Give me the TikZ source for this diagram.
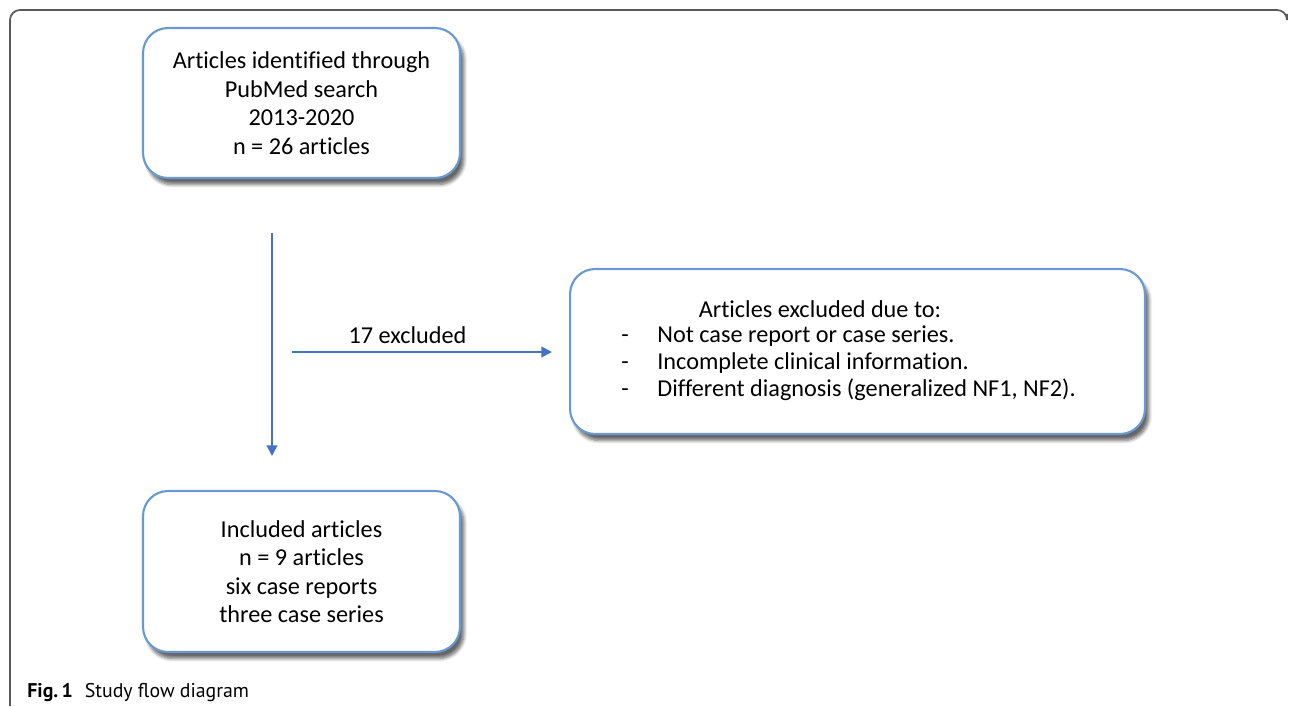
\documentclass[tikz,border=0pt]{standalone}
\usepackage{fontspec}
\setmainfont{Carlito}[Ligatures=NoCommon]
\newfontfamily\capfont{PT Sans}
\usetikzlibrary{arrows.meta, shadows.blur}
\definecolor{boxblue}{RGB}{104,153,211}
\definecolor{arrowblue}{RGB}{68,114,196}
\definecolor{framegray}{RGB}{90,90,90}

\begin{document}
\begin{tikzpicture}[x=0.02cm, y=-0.02cm,
  box/.style={draw=boxblue, line width=1.2pt, rounded corners=0.5cm, fill=white,
    align=center, font=\fontsize{13.8}{16.2}\selectfont,
    blur shadow={shadow xshift=0.08cm, shadow yshift=-0.13cm, shadow blur steps=6, shadow opacity=60}},
  flow/.style={draw=arrowblue, line width=1.1pt, -{Triangle[length=6pt, width=6pt]}},
  txt/.style={font=\fontsize{13.8}{15.4}\selectfont, inner sep=0pt, anchor=base}]
\useasboundingbox (0,0) rectangle (1290,706);

\draw[framegray, line width=1pt, rounded corners=0.2cm] (10,706) -- (10,10) -- (1287,10) -- (1287,14);

\node[box, minimum width=6.34cm, minimum height=3.0cm] (1) at (301.5,103) {Articles identified through\\PubMed search\\2013-2020\\n = 26 articles};

\node[box, minimum width=11.5cm, minimum height=3.3cm] (2) at (857.5,351.5) {};
\node[txt] (h) at (820,317) {Articles excluded due to:};
\node[txt] (d1) at (625,342) {-};
\node[txt] (d2) at (625,369) {-};
\node[txt] (d3) at (625,396) {-};
\node[txt, anchor=base west] (r1) at (657,342) {Not case report or case series.};
\node[txt, anchor=base west] (r2) at (657,369) {Incomplete clinical information.};
\node[txt, anchor=base west] (r3) at (657,396) {Different diagnosis (generalized NF1, NF2).};

\node[box, minimum width=6.34cm, minimum height=3.22cm] (3) at (301.5,571.5) {Included articles\\n = 9 articles\\six case reports\\three case series};

\coordinate (a) at (272,233);
\coordinate (b) at (272,456);
\coordinate (c) at (292,352);
\coordinate (e) at (552,352);
\draw[flow] (a) -- (b);
\draw[flow] (c) -- node[above, pos=0.444, inner sep=4pt, font=\fontsize{13.8}{15.4}\selectfont] (lab) {17 excluded} (e);

\node[anchor=base west, inner sep=0pt, font=\capfont\fontsize{11.3}{13}\selectfont] (cap) at (27,697) {\textbf{Fig.\,1}\hspace{0.6em}Study flow diagram};
\end{tikzpicture}
\end{document}
